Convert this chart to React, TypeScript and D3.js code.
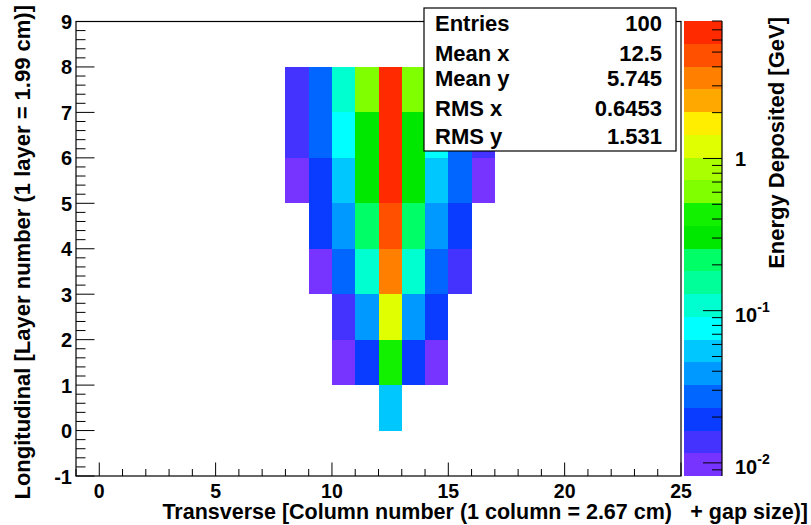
import React from 'react';
import * as d3 from 'd3';

// Transverse column bins (lower edges), one entry per column
const columns = [8, 9, 10, 11, 12, 13, 14, 15, 16];

// Energy deposited [GeV] per layer (index = column position in `columns`), null = empty
const layer0 = [null, null, null, null, 0.055, null, null, null, null];
const layer1 = [null, null, 0.0099, 0.019, 0.43, 0.02, 0.0097, null, null];
const layer2 = [null, null, 0.014, 0.039, 1.2, 0.04, 0.019, null, null];
const layer3 = [null, 0.0096, 0.028, 0.11, 3.3, 0.105, 0.027, 0.014, null];
const layer4 = [null, 0.02, 0.039, 0.22, 4.8, 0.21, 0.038, 0.019, null];
const layer5 = [0.0098, 0.019, 0.054, 0.3, 6.3, 0.29, 0.055, 0.027, 0.0097];
const layer6 = [0.014, 0.028, 0.077, 0.31, 6.6, 0.3, 0.076, 0.027, 0.013];
const layer7 = [0.014, 0.027, 0.11, 0.62, 6.8, 0.6, 0.11, 0.027, 0.014];
const layers = [layer0, layer1, layer2, layer3, layer4, layer5, layer6, layer7];

// colour axis range
const zMin = 0.0082;
const zMax = 8.0;

// 20-level palette from low to high
const palette = [
  '#7733ff', '#4433ff', '#0a3cff', '#0066ff', '#0099ff',
  '#00c8ff', '#00ffff', '#00ffd0', '#00ff99', '#00ff66',
  '#00e800', '#12f200', '#7fff00', '#aaff00', '#e0ff00',
  '#ffee00', '#ffa800', '#ff8000', '#ff5000', '#ff2a00',
];

const xTickLabels = [0, 5, 10, 15, 20, 25];
const yTickLabels = [-1, 0, 1, 2, 3, 4, 5, 6, 7, 8, 9];
const zTickLabels = [
  { v: 1, base: '1', exp: '' },
  { v: 0.1, base: '10', exp: '-1' },
  { v: 0.01, base: '10', exp: '-2' },
];

const statLabels = ['Entries', 'Mean x', 'Mean y', 'RMS x', 'RMS y'];
const statValues = ['100', '12.5', '5.745', '0.6453', '1.531'];

const FONT = '"Liberation Sans", Arial, Helvetica, sans-serif';

export default function App() {
  const W = 811;
  const H = 525;
  const x = d3.scaleLinear().domain([-1, 25]).range([76, 681]);
  const y = d3.scaleLinear().domain([-1, 9]).range([476, 21.5]);
  const zAxis = d3.scaleLog().domain([zMin, zMax]).range([476, 21]);
  const lmin = Math.log10(zMin);
  const lmax = Math.log10(zMax);
  const color = d3.scaleQuantize<string>().domain([lmin, lmax]).range(palette);
  const bw = (lmax - lmin) / palette.length;

  const cells: { c: number; l: number; v: number }[] = [];
  layers.forEach((row, l) => {
    row.forEach((v, i) => {
      if (v != null) cells.push({ c: columns[i], l, v: v as number });
    });
  });

  const xMinor = d3.range(-1, 26, 1);
  const yMinor = d3.range(-1, 9.001, 0.2);

  const zTicks: { v: number; major: boolean }[] = [];
  for (let d = -3; d <= 1; d++) {
    for (let m = 1; m <= 9; m++) {
      const v = m * Math.pow(10, d);
      if (v >= zMin * 0.999 && v <= zMax * 1.001) zTicks.push({ v, major: m === 1 });
    }
  }

  const cbX0 = 684;
  const cbX1 = 722;

  return (
    <svg
      width={W}
      height={H}
      viewBox={`0 0 ${W} ${H}`}
      style={{ position: 'absolute', left: 0, top: 0, background: '#fff' }}
      fontFamily={FONT}
      fontWeight="bold"
    >
      <rect x={0} y={0} width={W} height={H} fill="#fff" />
      {/* cells */}
      <g shapeRendering="crispEdges">
        {cells.map((d, i) => (
          <rect
            key={i}
            x={x(d.c)}
            y={y(d.l + 1)}
            width={x(d.c + 1) - x(d.c)}
            height={y(d.l) - y(d.l + 1)}
            fill={color(Math.log10(d.v))}
          />
        ))}
      </g>
      {/* frame */}
      <rect x={76} y={21.5} width={605} height={454.5} fill="none" stroke="#000" strokeWidth={1.2} />
      {/* ticks */}
      <g stroke="#000" strokeWidth={1}>
        {xMinor.map((v) => {
          const major = v % 5 === 0;
          return <line key={'xm' + v} x1={x(v)} x2={x(v)} y1={476} y2={476 - (major ? 13.5 : 7)} />;
        })}
        {yMinor.map((v, i) => {
          const major = Math.abs(v - Math.round(v)) < 1e-6;
          return <line key={'ym' + i} x1={76} x2={76 + (major ? 18.5 : 9.5)} y1={y(v)} y2={y(v)} />;
        })}
      </g>
      {xTickLabels.map((v) => (
        <text key={'xl' + v} x={x(v)} y={497.5} fontSize={19.5} textAnchor="middle">
          {v}
        </text>
      ))}
      {yTickLabels.map((v) => (
        <text key={'yl' + v} x={72} y={y(v) + 7.5} fontSize={20} textAnchor="end">
          {v}
        </text>
      ))}
      {/* axis titles */}
      <text x={672} y={519} fontSize={21.5} textAnchor="end">
        Transverse [Column number (1 column = 2.67 cm)
      </text>
      <text x={808} y={519} fontSize={21.5} textAnchor="end">
        + gap size)]
      </text>
      <text transform="translate(30,5) rotate(-90)" fontSize={22} textAnchor="end">
        Longitudinal [Layer number (1 layer = 1.99 cm)]
      </text>
      {/* colour bar */}
      <g shapeRendering="crispEdges">
        {palette.map((c, j) => {
          const top = zAxis(Math.pow(10, lmin + (j + 1) * bw));
          const bot = zAxis(Math.pow(10, lmin + j * bw));
          return <rect key={'cb' + j} x={cbX0} y={top} width={cbX1 - cbX0} height={bot - top} fill={c} />;
        })}
      </g>
      <line x1={cbX1} x2={cbX1} y1={21} y2={476} stroke="#000" strokeWidth={1.2} />
      <g stroke="#000" strokeWidth={1}>
        {zTicks.map((t, i) => (
          <line key={'zt' + i} x1={cbX1} x2={cbX1 - (t.major ? 19 : 10)} y1={zAxis(t.v)} y2={zAxis(t.v)} />
        ))}
      </g>
      {zTickLabels.map((t) => (
        <text key={'zl' + t.v} x={735} y={zAxis(t.v) + (t.exp ? 11 : 7.5)} fontSize={20}>
          {t.base}
          {t.exp ? (
            <tspan dy={-10} fontSize={14}>
              {t.exp}
            </tspan>
          ) : null}
        </text>
      ))}
      <text transform="translate(784,17) rotate(-90)" fontSize={22} textAnchor="end">
        Energy Deposited [GeV]
      </text>
      {/* stats box */}
      <rect x={424} y={8} width={252} height={143} fill="#fff" stroke="#000" strokeWidth={1.2} />
      {statLabels.map((s, i) => {
        const baselines = [31, 61, 86, 116, 144];
        return (
          <g key={'st' + i}>
            <text x={435} y={baselines[i]} fontSize={22}>
              {s}
            </text>
            <text x={662} y={baselines[i]} fontSize={22} textAnchor="end">
              {statValues[i]}
            </text>
          </g>
        );
      })}
    </svg>
  );
}
